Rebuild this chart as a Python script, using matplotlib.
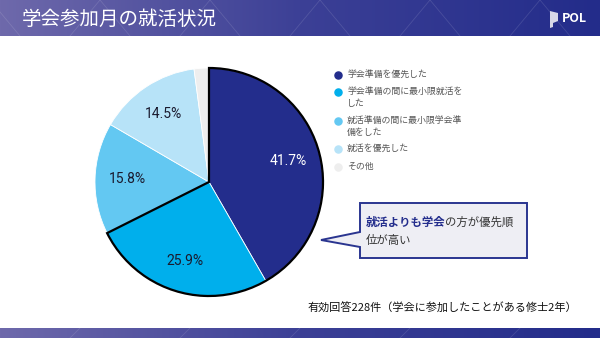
import matplotlib
matplotlib.use("Agg")
import matplotlib.pyplot as plt
import numpy as np
from matplotlib.patches import Wedge, Polygon
from matplotlib.colors import LinearSegmentedColormap

plt.rcParams['font.family'] = ['Noto Sans CJK JP', 'DejaVu Sans']

title = "学会参加月の就活状況"
categories = ["学会準備を優先した", "学会準備の間に最小限就活を\nした", "就活準備の間に最小限学会準\n備をした", "就活を優先した", "その他"]
values = [41.7, 25.9, 15.8, 14.5, 2.1]
colors = ["#232d8c", "#00afec", "#63c8f2", "#b7e3f8", "#eeeeee"]
pct_colors = ["white", "#1a1a2e", "#1a1a2e", "#1a1a2e", "none"]
callout_bold = "就活よりも学会"
callout_rest = "の方が優先順"
callout_line2 = "位が高い"
footnote = "有効回答228件（学会に参加したことがある修士2年）"

W, H = 600, 338
fig = plt.figure(figsize=(6, 3.38), dpi=100)
bg = fig.add_axes([0, 0, 1, 1])
bg.set_xlim(0, W); bg.set_ylim(H, 0); bg.axis('off')

cmap = LinearSegmentedColormap.from_list("hdr", ["#6e69ab", "#3c4096", "#232c8a"])
grad = np.linspace(0, 1, 256).reshape(1, -1)
bg.imshow(grad, extent=[0, W, 36, 0], aspect='auto', cmap=cmap, zorder=0)
bg.imshow(grad, extent=[0, W, H, 328], aspect='auto', cmap=cmap, zorder=0)
for x0 in range(-40, 640, 110):
    bg.plot([x0, x0 + 30], [36, 0], color='white', alpha=0.12, lw=0.6, zorder=1)
    bg.plot([x0 + 60, x0 + 30], [36, 0], color='white', alpha=0.12, lw=0.6, zorder=1)
    bg.plot([x0, x0 + 10], [H, 328], color='white', alpha=0.12, lw=0.6, zorder=1)
bg.set_xlim(0, W); bg.set_ylim(H, 0)

bg.text(22, 19, title, color='white', fontsize=14, va='center', ha='left', zorder=3)
# logo
bg.add_patch(Polygon([[550, 11], [558, 13], [558, 21], [553, 23], [553, 27], [550, 28]],
                     closed=True, facecolor='#d8d8e8', edgecolor='none', zorder=3))
bg.text(562, 19, "POL", color='white', fontsize=9, fontweight='bold', va='center', ha='left', zorder=3)

# pie
cx, cy, R = 209, 182, 114
pax = fig.add_axes([(cx - R) / W, 1 - (cy + R) / H, 2 * R / W, 2 * R / H])
wedges, texts, autotexts = pax.pie(values, colors=colors, startangle=90, counterclock=False,
                                   autopct='%1.1f%%', pctdistance=0.72,
                                   wedgeprops=dict(edgecolor='white', linewidth=0.6),
                                   textprops=dict(fontsize=10, family=['Roboto', 'DejaVu Sans']))
for t, c in zip(autotexts, pct_colors):
    if c == "none":
        t.set_visible(False)
    else:
        t.set_color(c)
pax.set_aspect('auto')
pax.set_xlim(-1, 1); pax.set_ylim(-1, 1)
pax.axis('off')
theta2 = 90
theta1 = 90 - (values[0] + values[1]) / 100 * 360
outline = Wedge((0, 0), 1.0, theta1, theta2, fill=False, edgecolor='black', linewidth=1.6, zorder=5)
outline.set_clip_on(False)
pax.add_patch(outline)

# legend
ly = [75, 92, 121, 149, 167]
for y, lab, c in zip(ly, categories, colors):
    bg.scatter([338], [y], s=26, color=c, zorder=3)
    bg.text(347, y - 5, lab, fontsize=6.4, color='#555555', va='top', ha='left',
            linespacing=1.45, zorder=3)

# callout
pts = [[360, 203], [527, 203], [527, 258], [360, 258], [360, 247], [321, 240], [360, 232]]
bg.add_patch(Polygon(pts, closed=True, facecolor='#eeeef4', edgecolor='#2a3590', linewidth=1.4, zorder=4))
t1 = bg.text(366, 222, callout_bold, fontsize=8.2, fontweight='bold', color='#232d8c', va='center', ha='left', zorder=5)
fig.canvas.draw()
bb = t1.get_window_extent(fig.canvas.get_renderer())
x_end = bg.transData.inverted().transform((bb.x1, bb.y0))[0]
bg.text(x_end - 1, 222, callout_rest, fontsize=8.2, color='#333333', va='center', ha='left', zorder=5)
bg.text(366, 240, callout_line2, fontsize=8.2, color='#333333', va='center', ha='left', zorder=5)

bg.text(307, 308, footnote, fontsize=8.0, color='#111111', va='center', ha='left', zorder=3)

fig.savefig("out.png", dpi=100)
